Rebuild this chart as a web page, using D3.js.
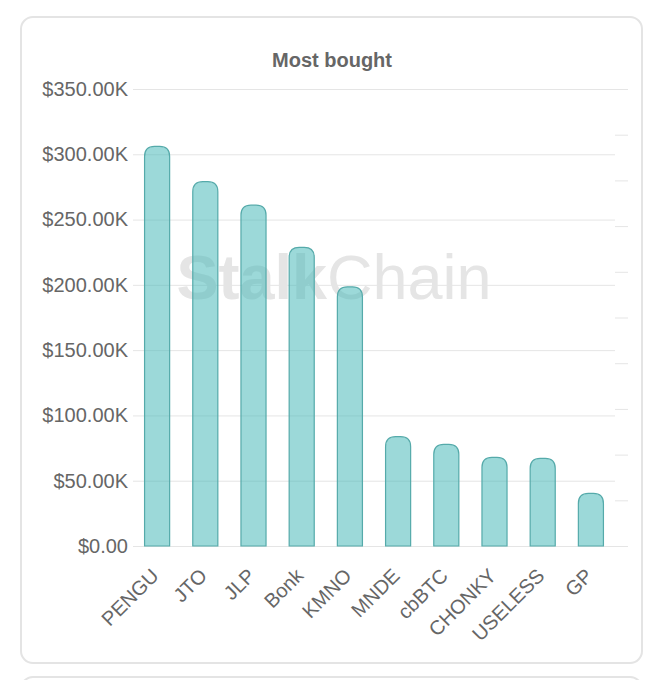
<!DOCTYPE html>
<html>
<head>
<meta charset="utf-8">
<script src="https://cdn.jsdelivr.net/npm/d3@7"></script>
<style>
  body { margin: 0; background: #fff; font-family: "Liberation Sans", Arial, sans-serif; }
</style>
</head>
<body>
<div id="chart"></div>
<script>
// data
const tokens = ["PENGU", "JTO", "JLP", "Bonk", "KMNO", "MNDE", "cbBTC", "CHONKY", "USELESS", "GP"];
const bought = [306000, 279000, 261000, 228700, 198500, 83700, 77900, 67900, 67100, 40300];
const yTicks = [0, 50000, 100000, 150000, 200000, 250000, 300000, 350000];

const w = 664, h = 680;
const margin = { top: 89, right: 49, bottom: 134, left: 133 };

const svg = d3.select("#chart").append("svg")
    .attr("width", w)
    .attr("height", h);

// card outlines
svg.append("rect")
    .attr("x", 21).attr("y", 17)
    .attr("width", 621).attr("height", 646)
    .attr("rx", 12)
    .attr("fill", "#fff")
    .attr("stroke", "#e4e4e4")
    .attr("stroke-width", 2);
svg.append("rect")
    .attr("x", 21).attr("y", 677)
    .attr("width", 621).attr("height", 40)
    .attr("rx", 12)
    .attr("fill", "#fff")
    .attr("stroke", "#e4e4e4")
    .attr("stroke-width", 2);

// Scales
const x = d3.scaleBand()
    .domain(tokens)
    .range([margin.left, w - margin.right])
    .paddingInner(0.48)
    .paddingOuter(0.24);

const y = d3.scaleLinear()
    .domain([0, 350000])
    .range([h - margin.bottom, margin.top]);

// hidden right axis (ticks only)
const y2 = d3.scaleLinear()
    .domain([0, 1])
    .range([h - margin.bottom, margin.top]);

// Title
svg.append("text")
    .attr("x", 332)
    .attr("y", 67)
    .attr("text-anchor", "middle")
    .attr("font-size", 20)
    .attr("font-weight", "bold")
    .attr("fill", "#666")
    .text("Most bought");

// Watermark
const wm = svg.append("text")
    .attr("x", 334)
    .attr("y", 299)
    .attr("text-anchor", "middle")
    .attr("font-size", 63)
    .attr("fill", "#e5e5e5");
wm.append("tspan").attr("font-weight", "bold").text("Stalk");
wm.append("tspan").text("Chain");

// Gridlines + left axis
const yAxis = svg.append("g")
    .attr("transform", `translate(${margin.left},0)`)
    .call(d3.axisLeft(y)
        .tickValues(yTicks)
        .tickSize(-(w - margin.right - margin.left))
        .tickPadding(5)
        .tickFormat(d => d === 0 ? "$0.00" : "$" + d3.format(".2f")(d / 1000) + "K"));
yAxis.select(".domain").remove();
yAxis.selectAll("line").attr("stroke", "#e5e5e5");
yAxis.selectAll("text")
    .attr("font-size", 20)
    .attr("fill", "#666")
    .attr("font-family", "Liberation Sans, Arial, sans-serif");

// Right axis ticks
const yAxis2 = svg.append("g")
    .attr("transform", `translate(${w - margin.right},0)`)
    .call(d3.axisRight(y2).ticks(10).tickSize(13).tickFormat(""));
yAxis2.select(".domain").remove();
yAxis2.selectAll("line").attr("stroke", "#e5e5e5");

// Bars with rounded tops
const r = 10;
const bw = x.bandwidth();
svg.append("g")
    .selectAll("path")
    .data(tokens.map((t, i) => ({ t, v: bought[i] })))
    .enter()
    .append("path")
    .attr("d", d => {
        const x0 = x(d.t), x1 = x0 + bw;
        const yt = y(d.v), yb = y(0);
        return `M${x0},${yb} L${x0},${yt + r} Q${x0},${yt} ${x0 + r},${yt} L${x1 - r},${yt} Q${x1},${yt} ${x1},${yt + r} L${x1},${yb} Z`;
    })
    .attr("fill", "rgba(75,185,185,0.55)")
    .attr("stroke", "rgb(85,170,170)")
    .attr("stroke-width", 1.2);

// X labels
const xAxis = svg.append("g")
    .attr("transform", `translate(0, ${h - margin.bottom})`)
    .call(d3.axisBottom(x).tickSize(0).tickPadding(0));
xAxis.select(".domain").remove();
xAxis.selectAll("text")
    .attr("font-size", 20)
    .attr("fill", "#666")
    .attr("font-family", "Liberation Sans, Arial, sans-serif")
    .attr("text-anchor", "end")
    .attr("dy", "0.35em")
    .attr("transform", "translate(-2,26) rotate(-45)");
</script>
</body>
</html>
